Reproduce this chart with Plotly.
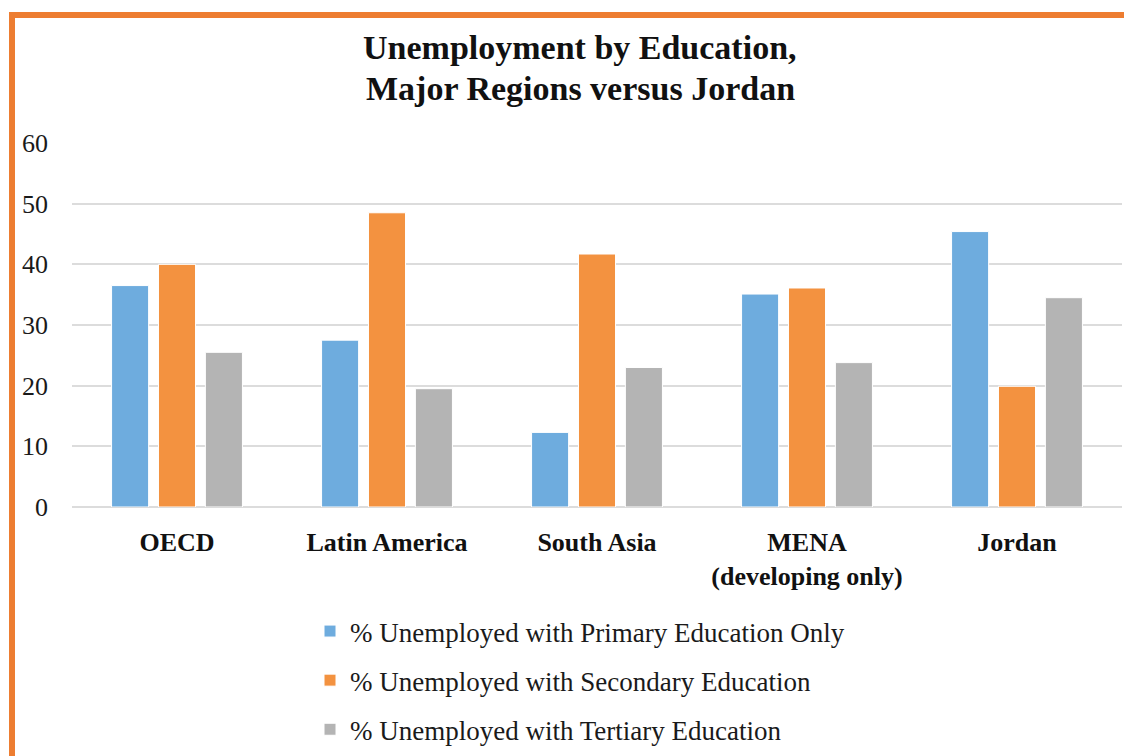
import plotly.graph_objects as go

categories = ["OECD", "Latin America", "South Asia", "MENA<br>(developing only)", "Jordan"]
primary = [36.5, 27.5, 12.3, 35.1, 45.4]
secondary = [40.0, 48.5, 41.7, 36.1, 19.9]
tertiary = [25.5, 19.5, 23.0, 23.8, 34.5]
series_names = [
    "% Unemployed with Primary Education Only",
    "% Unemployed with Secondary Education",
    "% Unemployed with Tertiary Education",
]
title_lines = ["Unemployment by Education,", "Major Regions versus Jordan"]
colors = ["#6EACDE", "#F39240", "#B4B4B4"]

# page has an 8px body margin; work in page pixels and convert
OFF = 8
W, H = 1132 - OFF, 756 - OFF
PL, PR, PT, PB = 72, 1122, 143, 507          # plot area in page pixels
L, T = PL - OFF, PT - OFF
R = W - (PR - OFF)
B = H - (PB - OFF)
pw, ph = PR - PL, PB - PT

def px_x(p):
    return (p - PL) / pw

def px_y(p):
    return (PB - p) / ph

def cont_x(p):
    return (p - OFF) / W

def cont_y(p):
    return 1 - (p - OFF) / H

serif = "Liberation Serif, Times New Roman, serif"
ink = "#1A1A1A"

fig = go.Figure()
for name, vals, c in zip(series_names, [primary, secondary, tertiary], colors):
    fig.add_trace(go.Bar(
        x=categories, y=vals, name=name, legendgroup=name,
        marker=dict(color=c, line=dict(color="white", width=1)),
    ))

annotations = []
for line, yc in zip(title_lines, [47, 88]):
    annotations.append(dict(
        text="<b>" + line + "</b>", showarrow=False,
        xref="paper", yref="paper", x=px_x(580), y=px_y(yc),
        xanchor="center", yanchor="middle",
        font=dict(family=serif, size=34, color="#111111"),
    ))

fig.update_layout(
    width=W, height=H,
    margin=dict(l=L, r=R, t=T, b=B, pad=0, autoexpand=False),
    paper_bgcolor="white", plot_bgcolor="white",
    barmode="group", bargap=0.33, bargroupgap=0.21,
    font=dict(family=serif, color=ink),
    annotations=annotations,
    xaxis=dict(
        tickfont=dict(family=serif, size=26, color="#111111"),
        showgrid=False, showline=False, ticks="",
        ticklabelstandoff=17,
        tickprefix="<b>", ticksuffix="</b>",
    ),
    yaxis=dict(
        range=[0, 60], dtick=10,
        tickfont=dict(family=serif, size=26, color=ink),
        showgrid=True, gridcolor="#DCDCDC", gridwidth=2,
        zeroline=True, zerolinecolor="#DCDCDC", zerolinewidth=2,
        showline=False, ticks="", ticklabelstandoff=23,
    ),
    legend=dict(
        orientation="v",
        x=cont_x(310), xanchor="left", xref="container",
        y=cont_y(607), yanchor="top", yref="container",
        font=dict(family=serif, size=27, color=ink),
        tracegroupgap=11,
        bgcolor="rgba(0,0,0,0)",
    ),
    shapes=[
        dict(type="rect", xref="paper", yref="paper",
             x0=px_x(12), x1=px_x(1160), y0=px_y(790), y1=px_y(15),
             line=dict(color="#ED7D31", width=6), fillcolor="rgba(0,0,0,0)",
             layer="above"),
    ],
)

fig.write_html("out.html")
